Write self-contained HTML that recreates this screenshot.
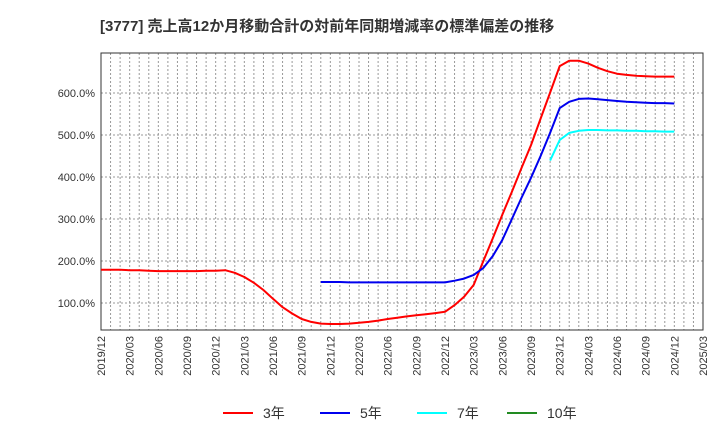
<!DOCTYPE html>
<html><head><meta charset="utf-8"><style>
body{margin:0;background:#fff;font-family:"Liberation Sans","Noto Sans CJK JP",sans-serif}
</style></head><body>
<svg id="c" width="720" height="440" xmlns="http://www.w3.org/2000/svg">
<text x="100" y="31" font-size="15" font-weight="bold" fill="#333" font-family="Liberation Sans,Noto Sans CJK JP,sans-serif">[3777]  売上高12か月移動合計の対前年同期増減率の標準偏差の推移</text>
<g id="grid"></g><g id="axes"></g><g id="series"></g><g id="legend"></g>
</svg>
<script>
const yTicks=[100,200,300,400,500,600];
const xLabels=["2019/12","2020/03","2020/06","2020/09","2020/12","2021/03","2021/06","2021/09","2021/12","2022/03","2022/06","2022/09","2022/12","2023/03","2023/06","2023/09","2023/12","2024/03","2024/06","2024/09","2024/12","2025/03"];
const s3=[179,179,179,178,178,177,176,176,176,176,176,177,177,178,172,162,148,131,110,90,75,62,55,51,50,50,51,53,55,58,62,65,68,71,73,76,79,95,115,143,199,254,310,365,421,476,539,601,664,677,677,670,660,652,646,643,641,640,639,639,639];
const s5=[null,null,null,null,null,null,null,null,null,null,null,null,null,null,null,null,null,null,null,null,null,null,null,150,150,150,149,149,149,149,149,149,149,149,149,149,149,153,158,167,183,212,250,300,350,398,450,505,564,579,586,587,585,583,581,579,578,577,576,576,575];
const s7=[null,null,null,null,null,null,null,null,null,null,null,null,null,null,null,null,null,null,null,null,null,null,null,null,null,null,null,null,null,null,null,null,null,null,null,null,null,null,null,null,null,null,null,null,null,null,null,439,488,505,510,512,512,511,511,510,510,509,509,508,508];
const L=101,R=703,T=53,B=330,N=63;
const x=i=>L+i*(R-L)/N;
const y=v=>303-(v-100)*0.42;
const ns="http://www.w3.org/2000/svg";
function mk(t,a,p){const e=document.createElementNS(ns,t);for(const k in a)e.setAttribute(k,a[k]);document.getElementById(p).appendChild(e);return e;}
for(let i=1;i<N;i++){const l=mk('line',{x1:x(i),x2:x(i),y1:T,y2:B,stroke:'#999','stroke-dasharray':'2,2','stroke-width':1},'grid');

}
yTicks.forEach(v=>{const l=mk('line',{x1:L,x2:R,y1:y(v),y2:y(v),stroke:'#999','stroke-dasharray':'2,2'},'grid');


const t=mk('text',{x:L-6,y:y(v)+4,'text-anchor':'end','font-size':11,fill:'#333'},'axes');t.textContent=v.toFixed(1)+'%';

});
const fr=mk('rect',{x:L,y:T,width:R-L,height:B-T,fill:'none',stroke:'#333'},'axes');


xLabels.forEach((s,k)=>{const px=x(k*3);const t=mk('text',{x:0,y:0,'font-size':11,fill:'#333','text-anchor':'end',transform:`translate(${px+4},${B+6}) rotate(-90)`},'axes');t.textContent=s;

});
function line(d,c,n){let p='';d.forEach((v,i)=>{if(v==null)return;p+=(p?'L':'M')+x(i).toFixed(1)+','+y(v).toFixed(1);});
const e=mk('path',{d:p,fill:'none',stroke:c,'stroke-width':2,'stroke-linejoin':'round'},'series');

}
line(s3,'#ff0000','series-3yr');line(s5,'#0000ee','series-5yr');line(s7,'#00ffff','series-7yr');
[['3年','#ff0000',223],['5年','#0000ee',320],['7年','#00ffff',417],['10年','#228b22',507]].forEach(([n,c,lx])=>{
const g=mk('g',{},'legend');


const l=document.createElementNS(ns,'line');l.setAttribute('x1',lx);l.setAttribute('x2',lx+30);l.setAttribute('y1',413);l.setAttribute('y2',413);l.setAttribute('stroke',c);l.setAttribute('stroke-width',2);g.appendChild(l);
const t=document.createElementNS(ns,'text');t.setAttribute('x',lx+40);t.setAttribute('y',418);t.setAttribute('font-size',14);t.setAttribute('fill','#333');t.textContent=n;g.appendChild(t);});
</script>
</body></html>
